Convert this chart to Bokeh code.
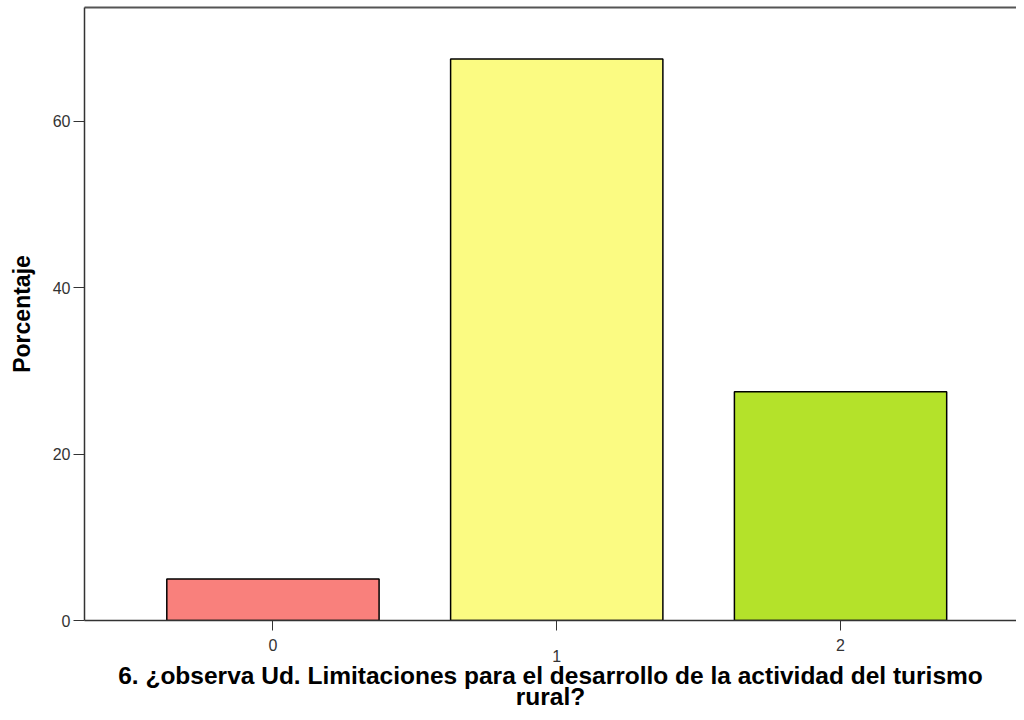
from bokeh.plotting import figure
from bokeh.models import LinearAxis, FixedTicker, Range1d
from bokeh.embed import file_html
from bokeh.resources import INLINE

categories = [0, 1, 2]
percentages = [5.0, 67.5, 27.5]
bar_colors = ["#F9807C", "#FBFB82", "#B4E22A"]
y_ticks = [0, 20, 40, 60]
x_title = "6. ¿observa Ud. Limitaciones para el desarrollo de la actividad del turismo\nrural?"
y_title = "Porcentaje"

FONT = "Liberation Sans"

p = figure(width=1016, height=712, output_backend="svg", toolbar_location=None,
           x_range=Range1d(-0.664, 2.62), y_range=Range1d(0, 73.7),
           min_border_top=7, min_border_right=0, min_border_left=84, min_border_bottom=0)
p.grid.visible = False
p.outline_line_color = None
p.background_fill_color = "white"

p.vbar(x=categories, top=percentages, width=0.748, bottom=0,
       fill_color=bar_colors, line_color="black", line_width=1.5)

# y axis
ya = p.yaxis[0]
ya.ticker = FixedTicker(ticks=y_ticks)
ya.axis_label = y_title
ya.axis_label_text_font = FONT
ya.axis_label_text_font_style = "bold"
ya.axis_label_text_font_size = "23px"
ya.axis_label_text_color = "black"
ya.axis_label_standoff = 15
ya.major_label_text_font = FONT
ya.major_label_text_font_size = "16px"
ya.major_label_text_color = "#333333"
ya.major_tick_out = 11
ya.major_tick_in = 0
ya.minor_tick_line_color = None
ya.major_label_standoff = 3
ya.axis_line_color = "#333333"
ya.axis_line_width = 1.5
ya.major_tick_line_color = "#333333"

# x axis: label for 1 staggered one (tight) line lower
xa = p.xaxis[0]
xa.ticker = FixedTicker(ticks=categories)
xa.major_label_overrides = {0: "0\n", 1: "\n1", 2: "2\n"}
xa.major_label_text_font = FONT
xa.major_label_text_font_size = "16px"
xa.major_label_text_line_height = 0.65
xa.major_label_text_color = "#333333"
xa.major_tick_out = 10
xa.major_tick_in = 0
xa.minor_tick_line_color = None
xa.major_label_standoff = 6
xa.axis_line_color = "#333333"
xa.axis_line_width = 1.5
xa.major_tick_line_color = "#333333"
xa.axis_label = x_title
xa.axis_label_text_font = FONT
xa.axis_label_text_font_style = "bold"
xa.axis_label_text_font_size = "24.5px"
xa.axis_label_text_line_height = 0.78
xa.axis_label_text_color = "black"
xa.axis_label_standoff = -6

# top border line
xt = LinearAxis(ticker=FixedTicker(ticks=[]))
xt.major_label_text_font_size = "0px"
xt.major_tick_line_color = None
xt.minor_tick_line_color = None
xt.axis_line_color = "#555555"
xt.axis_line_width = 2
p.add_layout(xt, "above")

open("out.html", "w").write(file_html(p, INLINE))
